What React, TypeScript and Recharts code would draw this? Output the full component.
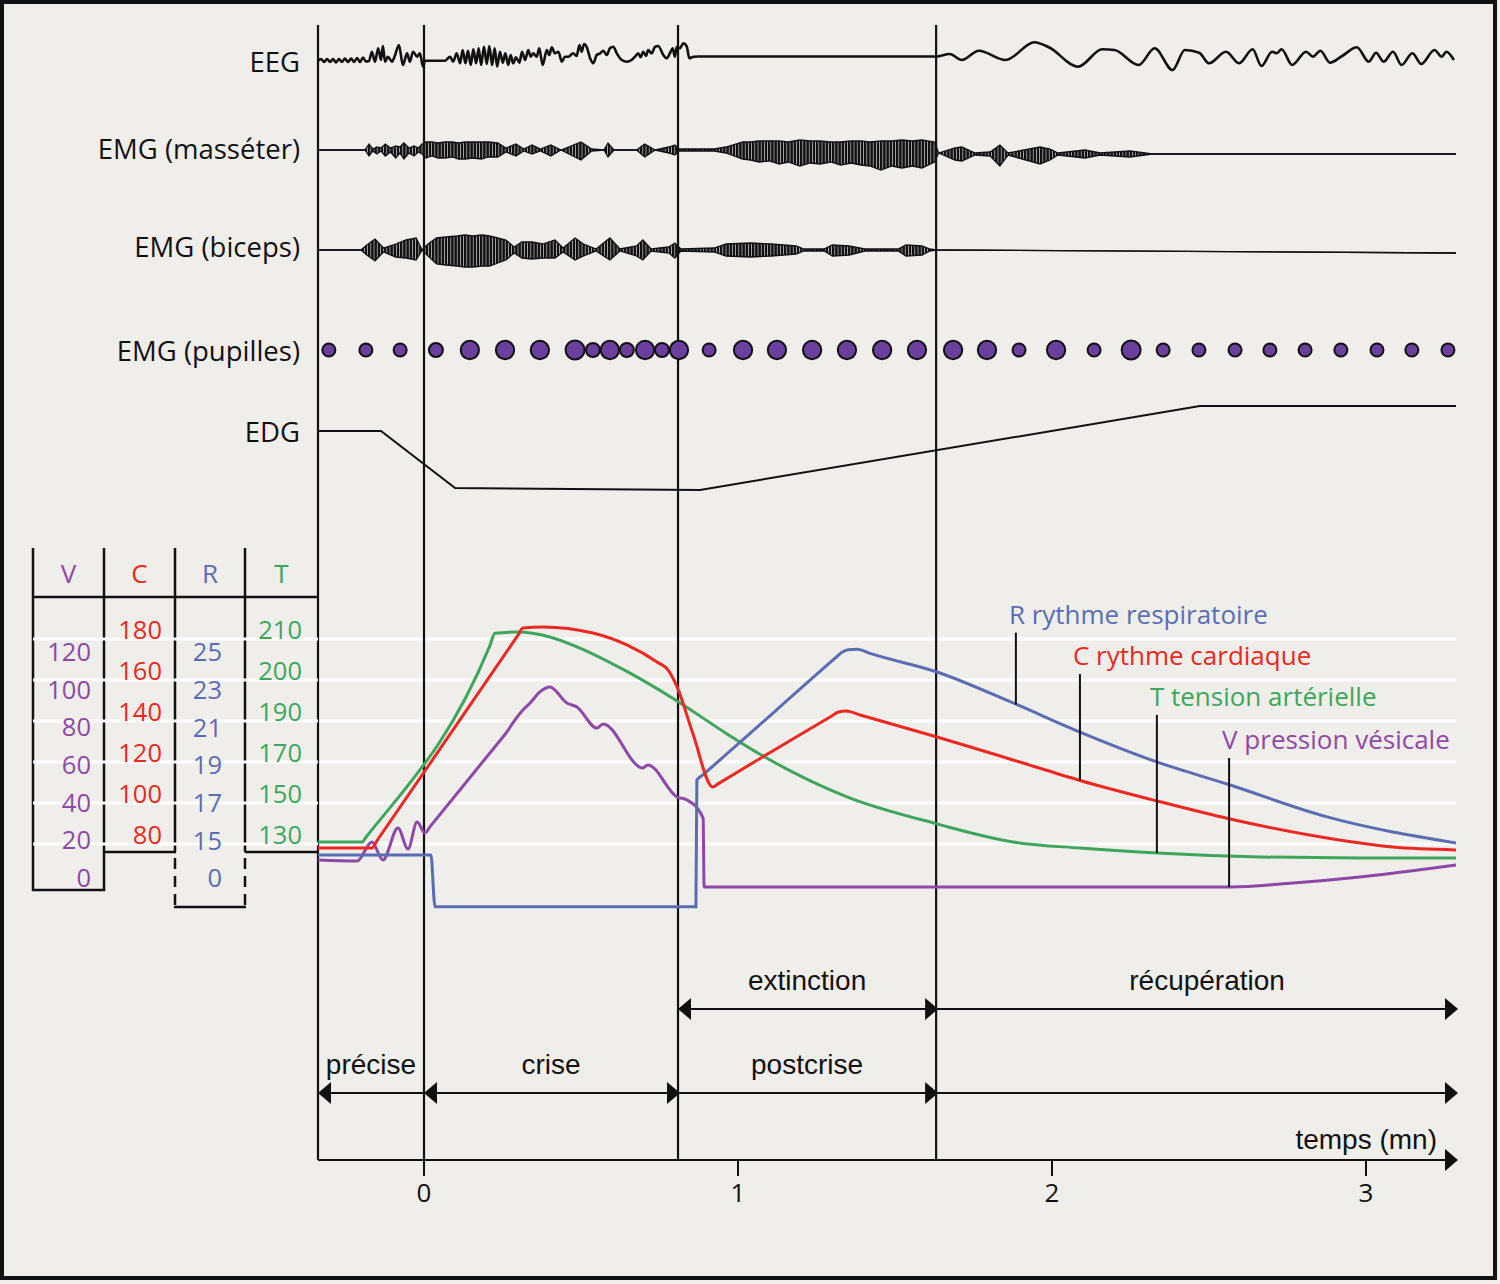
import React from 'react';
import {
  ComposedChart, Line, Area, Scatter, XAxis, YAxis, ZAxis,
  ReferenceLine, CartesianGrid, Customized,
} from 'recharts';

// ---------- data (time in minutes, 0 = onset of the crisis) ----------
const timeTicks = [0, 1, 2, 3];
const phaseEdges = [0, 0.809, 1.631];

// EEG trace, relative amplitude
const eeg: [number, number][] = [
  [-0.338, -1], [-0.328, 1], [-0.318, -2], [-0.309, 1], [-0.299, -2], [-0.29, 1], [-0.28, -2.5],
  [-0.271, 1], [-0.261, -2], [-0.252, 1.5], [-0.242, -2], [-0.232, 1.5], [-0.223, -2], [-0.213, 2],
  [-0.204, -2], [-0.194, 2.5], [-0.185, -1.5], [-0.175, -1], [-0.166, 8.3], [-0.156, -1.7],
  [-0.146, 11.7], [-0.137, 0], [-0.131, 14], [-0.124, -1.7], [-0.115, 3.3], [-0.102, -1.7],
  [-0.092, 5], [-0.08, 15], [-0.067, -5], [-0.054, 6.7], [-0.045, -1.7], [-0.035, 8.3],
  [-0.022, 3.3], [-0.013, 6.7], [-0.003, -6.7], [0.003, -0.7], [0.067, -0.7],
  [0.083, 3.3], [0.093, -1.7], [0.104, 6.7], [0.115, -3.3], [0.123, 10], [0.132, -3.3], [0.14, 9.3],
  [0.149, -5], [0.157, 10.7], [0.166, -3.3], [0.174, 11.7], [0.182, -5], [0.191, 13.3], [0.2, -4],
  [0.208, 14], [0.217, -5], [0.225, 11.7], [0.233, -6.7], [0.242, 8.3], [0.251, -2.7], [0.259, 6.7],
  [0.268, -5], [0.276, 5], [0.284, -3.3], [0.293, 2.7], [0.304, -2.7], [0.312, 8.3], [0.322, 0],
  [0.332, 10], [0.34, 3.3], [0.348, 6.7], [0.359, 3.3], [0.367, 11.7], [0.378, -5], [0.391, 10],
  [0.399, 5], [0.407, 12.7], [0.417, 6.7], [0.428, 8.3], [0.439, -1.7], [0.449, 3.3], [0.46, 3.3],
  [0.475, 6.7], [0.486, 4], [0.495, 15], [0.502, 8.3], [0.51, 16], [0.518, 13.3], [0.529, 1.7],
  [0.539, -3.3], [0.55, 5], [0.561, 6.7], [0.571, 9.3], [0.582, 5], [0.592, 11.7], [0.603, 13.3],
  [0.614, 6.7], [0.63, 0], [0.646, -1.7], [0.661, 0], [0.672, 3.3], [0.682, 6.7], [0.69, 2.7],
  [0.698, 8.3], [0.707, 4], [0.714, 10], [0.725, 6.7], [0.736, 13.3], [0.746, 14], [0.762, 5],
  [0.773, 1.7], [0.783, 6.7], [0.792, 11.7], [0.799, 3.3], [0.805, 13.3], [0.815, 11.7],
  [0.826, 16.7], [0.837, 13.3], [0.845, 1.7], [0.858, 3.3], [0.874, 3.5], [1.631, 3.5],
  [1.674, 6], [1.713, 0], [1.767, 9.3], [1.852, 0], [1.944, 17.7], [1.99, 12.7], [2.083, -6.7],
  [2.16, 10.7], [2.199, 10], [2.276, -5], [2.327, 11.7], [2.384, -10], [2.423, 10], [2.469, 7.3],
  [2.5, -3.3], [2.554, 8.3], [2.596, -3.3], [2.639, 10.7], [2.667, -6], [2.701, 8.3], [2.716, 6.7],
  [2.731, 10.7], [2.765, -5], [2.809, 8.3], [2.831, 3.3], [2.855, 9.3], [2.885, -2.7], [2.924, 4],
  [2.971, 12.7], [3.009, -1.7], [3.032, 7.3], [3.056, -1.7], [3.086, 8.3], [3.113, -5],
  [3.148, 6.7], [3.176, -4], [3.218, 10], [3.241, 3.3], [3.256, 8.3], [3.28, 0],
];

// EMG envelopes: [t, low, high]
const emgMasseter: [number, number, number][] = [
  [-0.338, 0, 0], [-0.188, 0, 0], [-0.175, -6, 6], [-0.163, -1, 1], [-0.15, -4, 3], [-0.137, -1, 2],
  [-0.123, -6, 6], [-0.107, -2, 2], [-0.09, -8, 4], [-0.077, -3, 3], [-0.064, -9, 7], [-0.048, -3, 2],
  [-0.032, -6, 4], [-0.018, -2, 2], [-0.006, -4, 6], [0.006, -8, 8], [0.025, -6, 8], [0.045, -8, 7],
  [0.066, -8, 8], [0.09, -7, 8], [0.11, -9, 7], [0.131, -9, 8], [0.155, -8, 8], [0.183, -9, 8],
  [0.205, -7, 8], [0.235, -7, 7], [0.261, -2, 2], [0.293, -6, 6], [0.318, -1, 1], [0.344, -4, 5],
  [0.371, -1, 1], [0.404, -6, 5], [0.436, 0, 0], [0.468, -5, 4], [0.5, -10, 8], [0.534, -1, 1],
  [0.573, 0, 0], [0.586, -7, 7], [0.605, 0, 0], [0.677, 0, 0], [0.703, -7, 6], [0.736, 0, 0],
  [0.78, -3, 3], [0.799, -5, 5], [0.812, -1, 1], [0.924, -1, 1], [0.962, -3, 3], [1.015, -9, 8],
  [1.04, -10, 8], [1.067, -12, 9], [1.1, -11, 9], [1.131, -14, 9], [1.16, -12, 8], [1.197, -16, 10],
  [1.23, -13, 9], [1.261, -14, 9], [1.295, -12, 8], [1.327, -15, 8], [1.36, -13, 9], [1.392, -15, 9],
  [1.42, -16, 8], [1.455, -20, 9], [1.49, -16, 9], [1.522, -18, 10], [1.555, -16, 9],
  [1.586, -18, 10], [1.626, -12, 8],
  [1.639, -3, -3], [1.691, -10, 2], [1.713, -11, 3], [1.755, -5, -3], [1.803, -6, -2],
  [1.834, -16, 5], [1.86, -5, -3], [1.962, -14, 3], [1.994, -10, 1], [2.019, -5, -3],
  [2.105, -8, 0], [2.153, -5, -3], [2.248, -7, -1], [2.296, -5, -3], [2.318, -4, -4], [3.287, -4, -4],
];

const emgBiceps: [number, number, number][] = [
  [-0.338, 0, 0], [-0.201, 0, 0], [-0.182, -5, 5], [-0.156, -11, 11], [-0.129, -2, 2], [-0.09, -7, 6],
  [-0.057, -8, 10], [-0.025, -10, 12], [-0.006, 0, 0], [0.013, -6, 6], [0.04, -14, 12],
  [0.07, -15, 13], [0.105, -16, 14], [0.13, -17, 15], [0.156, -17, 14], [0.185, -16, 15],
  [0.209, -16, 14], [0.235, -13, 12], [0.261, -10, 10], [0.287, -3, 3],
  [0.312, -8, 8], [0.344, -9, 8], [0.378, -8, 6], [0.417, -8, 10], [0.443, -2, 2], [0.481, -10, 12],
  [0.508, -6, 6], [0.548, -1, 1], [0.592, -10, 12], [0.624, -1, 1], [0.677, -6, 4], [0.697, -10, 10],
  [0.723, -1, 1], [0.78, -3, 3], [0.799, -8, 7], [0.818, -1, 1], [0.924, -2, 2], [0.962, -6, 6],
  [1.041, -7, 7], [1.105, -6, 6], [1.185, -4, 4], [1.21, -1, 1], [1.274, -1, 1], [1.301, -6, 5],
  [1.354, -5, 4], [1.404, -1, 1], [1.51, -1, 1], [1.535, -6, 5], [1.586, -5, 4], [1.611, -1, 1],
  [1.631, 0, 0], [3.287, -3, -3],
];

// pupil diameter (mm)
const pupils: [number, number][] = [
  [-0.303, 3], [-0.185, 3], [-0.076, 3], [0.038, 3.2], [0.146, 4.3], [0.258, 4.3], [0.369, 4.3],
  [0.481, 4.5], [0.538, 3.2], [0.592, 4.3], [0.646, 3.2], [0.704, 4.3], [0.758, 3.2], [0.812, 4.3],
  [0.908, 3], [1.016, 4.3], [1.124, 4.3], [1.236, 4.3], [1.347, 4.3], [1.459, 4.3], [1.57, 4.3],
  [1.685, 4.3], [1.793, 4.3], [1.895, 3], [2.013, 4.3], [2.134, 3], [2.252, 4.5], [2.354, 3],
  [2.468, 3], [2.583, 3], [2.694, 3], [2.806, 3], [2.92, 3], [3.035, 3], [3.146, 3], [3.261, 3],
];

// electrodermogram, relative
const edg: [number, number][] = [
  [-0.338, 0], [-0.137, 0], [0.099, -57], [0.879, -59], [2.471, 25], [3.287, 25],
];

// V pression vésicale
const vPressure: [number, number][] = [
  [-0.338, 14.3], [-0.213, 13.8], [-0.166, 23.9], [-0.131, 14.3], [-0.083, 31.3], [-0.051, 20.2],
  [-0.022, 34.5], [0.003, 28.7], [0.02, 32.2], [0.25, 79.4], [0.264, 82.3], [0.283, 87.1],
  [0.315, 94], [0.338, 97.7], [0.369, 103.6], [0.401, 106.2], [0.455, 97.7], [0.487, 95.6],
  [0.551, 84.4], [0.57, 86.6], [0.697, 63.2], [0.713, 64.8], [0.806, 47.8], [0.838, 46.2],
  [0.889, 36.6], [0.892, 0], [2.567, 0], [2.768, 2.1], [2.981, 5.3], [3.287, 11.7],
];

// C rythme cardiaque
const cHeart: [number, number][] = [
  [-0.338, 78], [-0.166, 78], [-0.15, 81.6], [0.3, 182], [0.315, 185.4], [0.379, 185.9],
  [0.538, 182.9], [0.646, 177.1], [0.742, 168.8], [0.777, 164.9], [0.806, 156.6], [0.856, 134],
  [0.92, 107.8], [0.935, 109.2], [1.3, 142.6], [1.32, 144.4], [1.345, 144.9], [1.389, 142.9],
  [1.634, 132.2], [1.876, 121], [2.089, 111], [2.334, 101], [2.567, 92.2], [2.876, 82.9],
  [3.086, 78.5], [3.287, 77.1],
];

// R rythme respiratoire
const rResp: [number, number][] = [
  [-0.338, 13.7], [0.022, 13.7], [0.035, 0], [0.866, 0], [0.869, 18.7], [0.885, 18.93],
  [1.31, 25.16], [1.33, 25.45], [1.35, 25.6], [1.38, 25.62], [1.42, 25.4], [1.634, 24.42],
  [1.876, 22.78], [2.089, 21.24], [2.334, 19.66], [2.567, 18.44], [2.876, 16.75], [3.287, 15.37],
];

// T tension artérielle
const tTension: [number, number][] = [
  [-0.338, 131], [-0.197, 131], [-0.185, 133.3], [0.21, 208.4], [0.226, 211.4], [0.296, 211.7],
  [0.401, 210.5], [0.487, 208.1], [0.646, 202.1], [0.806, 194.9], [0.965, 183.7], [1.08, 172.9],
  [1.347, 153], [1.634, 139.8], [1.876, 131], [2.089, 128], [2.334, 125.6], [2.662, 123.7],
  [2.981, 123.2], [3.287, 123.2],
];

const vTicks = [0, 20, 40, 60, 80, 100, 120];
const cTicks = [80, 100, 120, 140, 160, 180];
const rTicks = [0, 15, 17, 19, 21, 23, 25];
const tTicks = [130, 150, 170, 190, 200, 210];

const legendNotes = [
  { axis: 'R', t: 1.885, from: 22.7, to: 26.5, text: 'R rythme respiratoire' },
  { axis: 'C', t: 2.089, from: 111, to: 162.9, text: 'C rythme cardiaque' },
  { axis: 'T', t: 2.334, from: 125.6, to: 191.5, text: 'T tension artérielle' },
  { axis: 'V', t: 2.564, from: 0, to: 68.5, text: 'V pression vésicale' },
];

// ---------- layout ----------
const W = 1500;
const H = 1284;
const PLOT = { top: 25, bottom: 1160, left: 318, right: 1456 };
const ORIGIN_X = 424;
const PX_PER_MIN = 314;
const X_MIN = (PLOT.left - ORIGIN_X) / PX_PER_MIN;
const X_MAX = (PLOT.right - ORIGIN_X) / PX_PER_MIN;

const BG = '#f0eeeb';
const INK = '#111';
const COL = { V: '#8e48a8', C: '#ec2822', R: '#5a6db3', T: '#3ea65a', pupil: '#6b3f9e' };
const SANS = '"Open Sans", "Noto Sans", sans-serif';
const ARIAL = '"Liberation Sans", Arial, sans-serif';

const ROW_ARROW_1 = 67;  // phase arrows, px above time axis
const ROW_ARROW_2 = 151;

const phaseArrows = [
  { from: X_MIN, to: 0, row: ROW_ARROW_1, head: 'start', label: 'précise', dx: 0 },
  { from: 0, to: phaseEdges[1], row: ROW_ARROW_1, head: 'both', label: 'crise', dx: 0 },
  { from: phaseEdges[1], to: phaseEdges[2], row: ROW_ARROW_1, head: 'end', label: 'postcrise', dx: 0 },
  { from: phaseEdges[2], to: X_MAX, row: ROW_ARROW_1, head: 'end', label: '', dx: 0 },
  { from: phaseEdges[1], to: phaseEdges[2], row: ROW_ARROW_2, head: 'both', label: 'extinction', dx: 0 },
  { from: phaseEdges[2], to: X_MAX, row: ROW_ARROW_2, head: 'end', label: 'récupération', dx: 11 },
];

// linear y-axis domain putting value a at pixel ya and b at pixel yb
const yDomain = (a: number, ya: number, b: number, yb: number): [number, number] => {
  const s = (ya - yb) / (b - a);
  return [a - (PLOT.bottom - ya) / s, a + (ya - PLOT.top) / s];
};

// T scale in the original is uneven: map to tick index
const tIdx = (v: number) => {
  if (v <= tTicks[0]) return (v - tTicks[0]) / (tTicks[1] - tTicks[0]);
  for (let i = 1; i < tTicks.length; i++) {
    if (v <= tTicks[i]) return i - 1 + (v - tTicks[i - 1]) / (tTicks[i] - tTicks[i - 1]);
  }
  const n = tTicks.length - 1;
  return n + (v - tTicks[n]) / (tTicks[n] - tTicks[n - 1]);
};
// R axis is broken below 15
const R_BREAK = 0.2;
const rAx = (v: number) => (v >= 15 ? v : 15 - (15 - v) * R_BREAK);

const toPts = (a: [number, number][], f = (v: number) => v) => a.map(([t, v]) => ({ t, v: f(v) }));
const toRange = (a: [number, number, number][]) => a.map(([t, lo, hi]) => ({ t, r: [lo, hi] }));

const LANES = [
  { id: 'eeg', label: 'EEG', base: 60, dy: 1 },
  { id: 'mas', label: 'EMG (masséter)', base: 150, dy: -2 },
  { id: 'bic', label: 'EMG (biceps)', base: 250, dy: -4 },
  { id: 'pup', label: 'EMG (pupilles)', base: 350, dy: 0 },
  { id: 'edg', label: 'EDG', base: 431, dy: 0 },
];
const AXIS_W = 1; // every labelled y axis takes 1px of the left margin
const LABELLED_AXES = LANES.length + 4;

const laneTick = (label: string, dy: number) => (p: any) => (
  <text x={300} y={p.y + dy} textAnchor="end" dominantBaseline="central"
    fill={INK} fontSize={27.5} fontFamily={SANS}>{label}</text>
);

const colTick = (right: number, color: string, labels: number[], grid = false, shift: Record<number, number> = {}) =>
  (p: any) => (
    <g>
      {grid && <line x1={33} x2={PLOT.left} y1={p.y} y2={p.y} stroke="#fff" strokeWidth={3} />}
      <text x={right} y={p.y + (shift[p.index] ?? 0)} textAnchor="end" fill={color}
        fontSize={25.5} fontFamily={SANS}>{labels[p.index]}</text>
    </g>
  );

const TimeTick = (p: any) => (
  <text x={p.x} y={PLOT.bottom + 42} textAnchor="middle" fill={INK} fontSize={26} fontFamily={SANS}>
    {p.payload.value}
  </text>
);

const HEAD_L = 13;
const HEAD_W = 11;
const arrowShape = (head: string, label: string, dx: number, tail?: string) => (p: any) => {
  const { x1, y1, x2 } = p;
  const y = y1;
  const lo = Math.min(x1, x2);
  const hi = Math.max(x1, x2);
  return (
    <g>
      <line x1={lo} y1={y} x2={hi} y2={y} stroke={INK} strokeWidth={2.2} />
      {(head === 'start' || head === 'both') && (
        <polygon points={`${lo},${y} ${lo + HEAD_L},${y - HEAD_W} ${lo + HEAD_L},${y + HEAD_W}`} fill={INK} />
      )}
      {(head === 'end' || head === 'both') && (
        <polygon points={`${hi + 2},${y} ${hi + 2 - HEAD_L},${y - HEAD_W} ${hi + 2 - HEAD_L},${y + HEAD_W}`} fill={INK} />
      )}
      {label && (
        <text x={(lo + hi) / 2 + dx} y={y - 19} textAnchor="middle" fill={INK} fontSize={28} fontFamily={ARIAL}>
          {label}
        </text>
      )}
      {tail && (
        <text x={hi - 19} y={y - 11} textAnchor="end" fill={INK} fontSize={28} fontFamily={ARIAL}>{tail}</text>
      )}
    </g>
  );
};

const noteShape = (text: string, color: string) => (p: any) => {
  const { x1, y1, y2 } = p;
  const top = Math.min(y1, y2);
  return (
    <g>
      <line x1={x1} y1={y1} x2={x1} y2={y2} stroke={INK} strokeWidth={2} />
      <text x={x1 - 7} y={top - 9} fill={color} fontSize={26} fontFamily={SANS}>{text}</text>
    </g>
  );
};

const TableFrame = () => {
  const s = { stroke: INK, strokeWidth: 2.5 };
  const heads = [
    { x: 68.5, t: 'V', c: COL.V }, { x: 139.5, t: 'C', c: COL.C },
    { x: 210, t: 'R', c: COL.R }, { x: 281.5, t: 'T', c: COL.T },
  ];
  return (
    <g>
      <defs>
        <pattern id="emgHatch" width={3.2} height={60} patternUnits="userSpaceOnUse">
          <rect x={0} y={0} width={2.6} height={60} fill={INK} />
        </pattern>
      </defs>
      <line x1={33} y1={548} x2={33} y2={891} {...s} />
      <line x1={104} y1={548} x2={104} y2={891} {...s} />
      <line x1={32} y1={890} x2={105} y2={890} {...s} />
      <line x1={33} y1={597} x2={318} y2={597} {...s} />
      <line x1={104} y1={852} x2={176} y2={852} {...s} />
      <line x1={175} y1={548} x2={175} y2={852} {...s} />
      <line x1={245} y1={548} x2={245} y2={852} {...s} />
      <line x1={175} y1={858} x2={175} y2={907} {...s} strokeDasharray="11 7" />
      <line x1={245} y1={858} x2={245} y2={907} {...s} strokeDasharray="11 7" />
      <line x1={174} y1={907} x2={246} y2={907} {...s} />
      <line x1={245} y1={852} x2={318} y2={852} {...s} />
      {heads.map((h) => (
        <text key={h.t} x={h.x} y={583} textAnchor="middle" fill={h.c} fontSize={26} fontFamily={SANS}>{h.t}</text>
      ))}
    </g>
  );
};

const axisFn: Record<string, (v: number) => number> = {
  V: (v) => v, C: (v) => v, R: rAx, T: tIdx,
};
const noteColor: Record<string, string> = COL as any;

export default function App() {
  return (
    <div style={{ position: 'absolute', left: 0, top: 0, width: W, height: H, background: BG }}>
      <div style={{ position: 'absolute', left: 0, top: 0, width: 1497, height: 1280, border: `4px solid ${INK}`, boxSizing: 'border-box' }} />
      <div style={{ position: 'absolute', left: 0, top: 0 }}>
        <ComposedChart width={W} height={H}
          margin={{ top: PLOT.top, right: W - PLOT.right, bottom: H - PLOT.bottom - 60, left: PLOT.left - AXIS_W * LABELLED_AXES }}>
          <XAxis type="number" dataKey="t" domain={[X_MIN, X_MAX]} allowDataOverflow ticks={timeTicks}
            interval={0} height={60} axisLine={false} tickSize={16}
            tickLine={{ stroke: INK, strokeWidth: 2 }} tick={TimeTick} />

          {LANES.map((l) => (
            <YAxis key={l.id} yAxisId={l.id} type="number" width={AXIS_W} domain={yDomain(0, l.base, 1, l.base - 1)}
              allowDataOverflow ticks={[0]} interval={0} axisLine={false} tickLine={false}
              dataKey={l.id === 'pup' ? 'y' : undefined} tick={laneTick(l.label, l.dy)} />
          ))}
          <YAxis yAxisId="T" type="number" width={AXIS_W} domain={yDomain(0, 844, 5, 639)} allowDataOverflow
            ticks={tTicks.map(tIdx)} interval={0} axisLine={false} tickLine={false}
            tick={colTick(302, COL.T, tTicks, true)} />
          <YAxis yAxisId="R" type="number" width={AXIS_W} domain={yDomain(15, 850, 25, 661)} allowDataOverflow
            ticks={rTicks.map(rAx)} interval={0} axisLine={false} tickLine={false}
            tick={colTick(222, COL.R, rTicks, false, { 0: -20 })} />
          <YAxis yAxisId="C" type="number" width={AXIS_W} domain={yDomain(80, 844, 180, 639)} allowDataOverflow
            ticks={cTicks} interval={0} axisLine={false} tickLine={false}
            tick={colTick(162, COL.C, cTicks)} />
          <YAxis yAxisId="V" type="number" width={AXIS_W} domain={yDomain(0, 887, 120, 661)} allowDataOverflow
            ticks={vTicks} interval={0} axisLine={false} tickLine={false}
            tick={colTick(91, COL.V, vTicks)} />
          <YAxis yAxisId="phase" type="number" hide domain={yDomain(0, PLOT.bottom, 1, PLOT.bottom - 1)} allowDataOverflow />
          <ZAxis type="number" dataKey="d" domain={[3, 4.5]} range={[133, 283]} />

          <CartesianGrid yAxisId="C" vertical={false} horizontalValues={cTicks} syncWithTicks
            stroke="#fff" strokeWidth={3} />
          <Customized component={TableFrame} />

          {[X_MIN, ...phaseEdges].map((x) => (
            <ReferenceLine key={x} x={x} yAxisId="phase" stroke={INK} strokeWidth={2.2} />
          ))}

          <Line data={toPts(eeg)} dataKey="v" yAxisId="eeg" type="monotone" stroke={INK} strokeWidth={2.6}
            dot={false} isAnimationActive={false} />
          <Area data={toRange(emgMasseter)} dataKey="r" yAxisId="mas" type="linear" stroke={INK} strokeWidth={1.3}
            fill="url(#emgHatch)" fillOpacity={1} isAnimationActive={false} />
          <Area data={toRange(emgBiceps)} dataKey="r" yAxisId="bic" type="linear" stroke={INK} strokeWidth={1.3}
            fill="url(#emgHatch)" fillOpacity={1} isAnimationActive={false} />
          <Scatter data={pupils.map(([t, d]) => ({ t, y: 0, d }))} dataKey="y" yAxisId="pup"
            fill={COL.pupil} stroke={INK} strokeWidth={2} isAnimationActive={false} />
          <Line data={toPts(edg)} dataKey="v" yAxisId="edg" type="linear" stroke={INK} strokeWidth={2}
            dot={false} isAnimationActive={false} />

          <Line data={toPts(tTension, tIdx)} dataKey="v" yAxisId="T" type="monotone" stroke={COL.T} strokeWidth={3}
            dot={false} isAnimationActive={false} />
          <Line data={toPts(vPressure)} dataKey="v" yAxisId="V" type="monotone" stroke={COL.V} strokeWidth={3}
            dot={false} isAnimationActive={false} />
          <Line data={toPts(rResp, rAx)} dataKey="v" yAxisId="R" type="monotone" stroke={COL.R} strokeWidth={3}
            dot={false} isAnimationActive={false} />
          <Line data={toPts(cHeart)} dataKey="v" yAxisId="C" type="monotone" stroke={COL.C} strokeWidth={3}
            dot={false} isAnimationActive={false} />

          {legendNotes.map((n) => (
            <ReferenceLine key={n.axis} yAxisId={n.axis} ifOverflow="visible"
              segment={[{ x: n.t, y: axisFn[n.axis](n.from) }, { x: n.t, y: axisFn[n.axis](n.to) }]}
              shape={noteShape(n.text, noteColor[n.axis])} />
          ))}

          {phaseArrows.map((a, i) => (
            <ReferenceLine key={i} yAxisId="phase" ifOverflow="visible"
              segment={[{ x: a.from, y: a.row }, { x: a.to, y: a.row }]}
              shape={arrowShape(a.head, a.label, a.dx)} />
          ))}
          <ReferenceLine yAxisId="phase" ifOverflow="visible"
            segment={[{ x: X_MIN, y: 0 }, { x: X_MAX, y: 0 }]}
            shape={arrowShape('end', '', 0, 'temps (mn)')} />
        </ComposedChart>
      </div>
    </div>
  );
}
